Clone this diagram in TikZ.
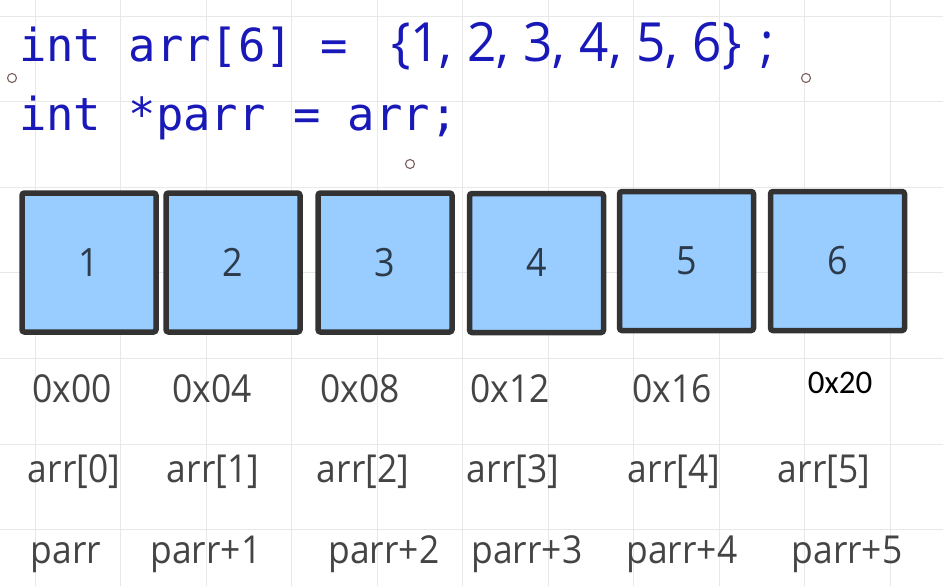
\documentclass[tikz,border=0pt]{standalone}
\usepackage{fontspec}
\newfontfamily\codefont{DejaVu Sans Mono}
\newfontfamily\bracefont[FakeStretch=0.95]{Open Sans}
\newfontfamily\lblfont[FakeStretch=0.92]{Open Sans}
\newfontfamily\addrfont{Carlito}
\definecolor{codeblue}{RGB}{25,25,185}
\definecolor{gridgray}{RGB}{232,232,232}
\definecolor{cellfill}{RGB}{153,204,255}
\definecolor{celldraw}{RGB}{51,51,51}
\definecolor{cellnum}{RGB}{44,58,74}
\definecolor{lblgray}{RGB}{68,68,68}
\definecolor{handlecol}{RGB}{125,95,95}
\newcommand{\bsp}{\hspace{14.5pt}}
\tikzset{
  gridline/.style={draw=gridgray, line width=0.8pt},
  cell/.style={draw=celldraw, fill=cellfill, line width=5.5pt, rounded corners=2.5pt,
    minimum width=134pt, minimum height=139pt, inner sep=0pt,
    font=\lblfont\fontsize{39}{44}\selectfont, text=cellnum},
  codetxt/.style={anchor=base west, inner sep=0pt, text=codeblue},
  lbl/.style={anchor=base, inner sep=0pt, text=lblgray, font=\lblfont\fontsize{38.5}{44}\selectfont},
  addr/.style={anchor=base, inner sep=0pt, text=black, font=\addrfont\fontsize{33}{38}\selectfont},
  handle/.style={draw=handlecol, line width=1.1pt, fill=white}
}
\begin{document}
\begin{tikzpicture}[x=1pt,y=-1pt]
\useasboundingbox (0,0) rectangle (943,586);
\fill[white] (0,0) rectangle (943,586);
% background grid
\foreach \i in {0,...,10} \draw[gridline] ({35+85.5*\i},0) -- ({35+85.5*\i},586);
\foreach \j in {0,...,6} \draw[gridline] (0,{16+85.6*\j}) -- (943,{16+85.6*\j});
% code
\node[codetxt, font=\codefont\fontsize{45.5}{50}\selectfont] (c1a) at (19,62) {int arr[6] =};
\node[codetxt, font=\bracefont\fontsize{54}{60}\selectfont] (c1b) at (391,62) {\{1,\bsp2,\bsp3,\bsp4,\bsp5,\bsp6\}\hspace{19pt};};
\node[codetxt, font=\codefont\fontsize{45.5}{50}\selectfont] (c2) at (19,130) {int *parr = arr;};
% handles
\draw[handle] (12,78) circle (4.5);
\draw[handle] (806,78) circle (4.5);
\draw[handle] (410,164) circle (4.5);
% cells
\node[cell] (b1) at (89,262.5) {1};
\node[cell] (b2) at (233,262.5) {2};
\node[cell] (b3) at (385,262.5) {3};
\node[cell] (b4) at (536.5,263) {4};
\node[cell] (b5) at (686.5,261) {5};
\node[cell] (b6) at (837.5,261) {6};
% addresses
\node[lbl] (a0) at (72,402) {0x00};
\node[lbl] (a1) at (212,402) {0x04};
\node[lbl] (a2) at (360,402) {0x08};
\node[lbl] (a3) at (510,402) {0x12};
\node[lbl] (a4) at (672,402) {0x16};
\node[addr] (a5) at (840,393) {0x20};
% arr[i]
\node[lbl] (r0) at (74,482) {arr[0]};
\node[lbl] (r1) at (213,482) {arr[1]};
\node[lbl] (r2) at (363,482) {arr[2]};
\node[lbl] (r3) at (513,482) {arr[3]};
\node[lbl] (r4) at (674,482) {arr[4]};
\node[lbl] (r5) at (824,482) {arr[5]};
% parr+i
\node[lbl] (p0) at (66,563) {parr};
\node[lbl] (p1) at (206,563) {parr+1};
\node[lbl] (p2) at (384,563) {parr+2};
\node[lbl] (p3) at (527,563) {parr+3};
\node[lbl] (p4) at (682,563) {parr+4};
\node[lbl] (p5) at (847,563) {parr+5};
\end{tikzpicture}
\end{document}
